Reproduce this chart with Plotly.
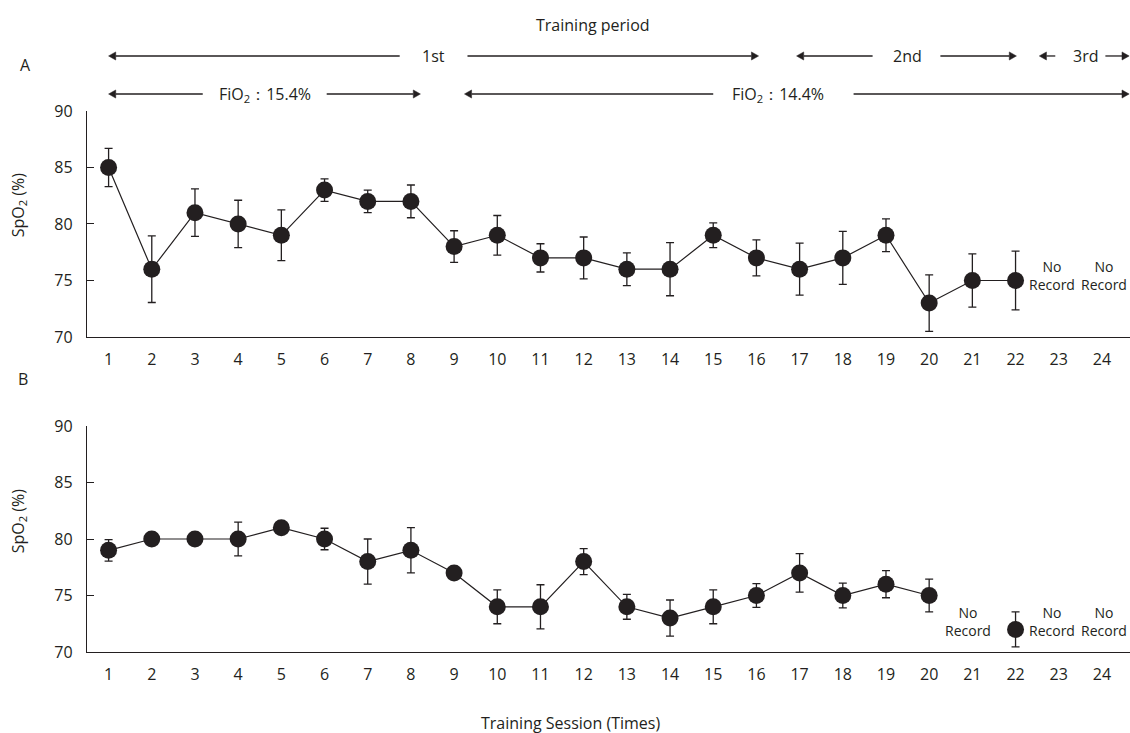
import plotly.graph_objects as go

# ---------------- data ----------------
sessions = list(range(1, 25))
tick_labels = [str(s) for s in sessions]

a_mean = [85, 76, 81, 80, 79, 83, 82, 82, 78, 79, 77, 77, 76, 76, 79, 77, 76, 77, 79, 73, 75, 75, None, None]
a_err = [1.7, 2.95, 2.1, 2.1, 2.25, 1.0, 1.0, 1.45, 1.4, 1.75, 1.25, 1.85, 1.45, 2.35, 1.1, 1.6, 2.3, 2.35, 1.45, 2.5, 2.35, 2.6, None, None]

b_mean = [79, 80, 80, 80, 81, 80, 78, 79, 77, 74, 74, 78, 74, 73, 74, 75, 77, 75, 76, 75, None, 72, None, None]
b_err = [0.95, 0.4, 0.4, 1.5, 0.4, 0.95, 2.0, 2.0, 0.4, 1.5, 1.95, 1.15, 1.1, 1.6, 1.5, 1.05, 1.7, 1.1, 1.2, 1.45, None, 1.55, None, None]

a_norecord_x = [22.85, 24.05]
b_norecord_x = [20.9, 22.85, 24.05]
a_norecord_y = 75.4
b_norecord_y = 72.7

period_labels = ["1st", "2nd", "3rd"]
period_text_x = [8.52, 19.5, 23.62]
period_left_tip = [1.0, 16.93, 22.55]
period_left_end = [7.74, 18.69, 22.92]
period_right_start = [9.31, 20.26, 24.08]
period_right_tip = [16.05, 22.02, 24.63]

fio2_labels = ["FiO<sub>2</sub>：15.4%", "FiO<sub>2</sub>：14.4%"]
fio2_text_x = [4.61, 16.5]
fio2_left_tip = [1.0, 9.24]
fio2_left_end = [3.18, 15.0]
fio2_right_start = [6.05, 18.25]
fio2_right_tip = [8.22, 24.63]

# ---------------- style ----------------
INK = "#231f20"
FONT = "Open Sans"
FS = 16

fig = go.Figure()

def add_series(y, err, xa, ya):
    fig.add_trace(go.Scatter(
        x=sessions, y=y, xaxis=xa, yaxis=ya,
        mode="lines+markers",
        connectgaps=False,
        line=dict(color=INK, width=1.2),
        marker=dict(color=INK, size=17, symbol="circle"),
        error_y=dict(type="data", array=err, visible=True, color=INK,
                     thickness=1.3, width=4),
        showlegend=False, hoverinfo="x+y",
    ))

add_series(a_mean, a_err, "x", "y")
add_series(b_mean, b_err, "x2", "y2")

xrange = [0.5, 24.65]
common_x = dict(range=xrange, tickmode="array", tickvals=sessions, ticktext=tick_labels,
                showline=True, linecolor=INK, linewidth=1.3, ticks="", showgrid=False,
                zeroline=False, tickfont=dict(family=FONT, size=FS, color=INK),
                ticklabelstandoff=8)
common_y = dict(range=[70, 90], tickmode="array", tickvals=[70, 75, 80, 85, 90],
                showline=True, linecolor=INK, linewidth=1.3, ticks="inside",
                ticklen=7, tickwidth=1.3, tickcolor=INK, showgrid=False,
                zeroline=False, tickfont=dict(family=FONT, size=FS, color=INK),
                ticklabelstandoff=10)

fig.update_layout(
    width=1130, height=733,
    margin=dict(l=87, r=0, t=111, b=81),
    paper_bgcolor="white", plot_bgcolor="white",
    font=dict(family=FONT, size=FS, color=INK),
    xaxis=dict(common_x, domain=[0, 1], anchor="y"),
    yaxis=dict(common_y, domain=[0.5823, 1], anchor="x"),
    xaxis2=dict(common_x, domain=[0, 1], anchor="y2"),
    yaxis2=dict(common_y, domain=[0, 0.4177], anchor="x2"),
)

anns = []
shapes = []

HEAD_LEN = 0.165    # in session units (~7 px)
HEAD_HALF = 0.0075  # in paper units (~4 px)

def arrow(tip, tail, yp):
    direction = 1 if tip > tail else -1
    base = tip - direction * HEAD_LEN
    shapes.append(dict(type="line", xref="x", yref="paper", x0=tail, x1=base,
                       y0=yp, y1=yp, line=dict(color=INK, width=1.3), layer="above"))
    shapes.append(dict(type="path", xref="x", yref="paper",
                       path=f"M {tip} {yp} L {base} {yp + HEAD_HALF} L {base} {yp - HEAD_HALF} Z",
                       fillcolor=INK, line=dict(color=INK, width=0.5), layer="above"))

def text(x, y, s, xref="paper", yref="paper", **kw):
    d = dict(x=x, y=y, xref=xref, yref=yref, text=s, showarrow=False,
             xanchor="center", yanchor="middle",
             font=dict(family=FONT, size=FS, color=INK))
    d.update(kw)
    anns.append(d)

ROW1 = 1.1017
ROW2 = 1.0314
for i, lab in enumerate(period_labels):
    arrow(period_left_tip[i], period_left_end[i], ROW1)
    arrow(period_right_tip[i], period_right_start[i], ROW1)
    text(period_text_x[i], ROW1, lab, xref="x")
for i, lab in enumerate(fio2_labels):
    arrow(fio2_left_tip[i], fio2_left_end[i], ROW2)
    arrow(fio2_right_tip[i], fio2_right_start[i], ROW2)
    text(fio2_text_x[i], ROW2, lab, xref="x")

text(0.4855, 1.159, "Training period")
text(-0.0585, 1.085, "A")
text(-0.0614, 0.5046, "B")
text(0.464, -0.131, "Training Session (Times)")
text(-0.066, 0.826, "SpO<sub>2</sub> (%)", textangle=-90)
text(-0.066, 0.242, "SpO<sub>2</sub> (%)", textangle=-90)

for xv in a_norecord_x:
    text(xv, a_norecord_y, "No<br>Record", xref="x", yref="y",
         font=dict(family=FONT, size=14, color=INK))
for xv in b_norecord_x:
    text(xv, b_norecord_y, "No<br>Record", xref="x2", yref="y2",
         font=dict(family=FONT, size=14, color=INK))

fig.update_layout(annotations=anns, shapes=shapes)

fig.write_html("out.html", config={"displayModeBar": False},
               post_script="document.body.style.margin='0';")
